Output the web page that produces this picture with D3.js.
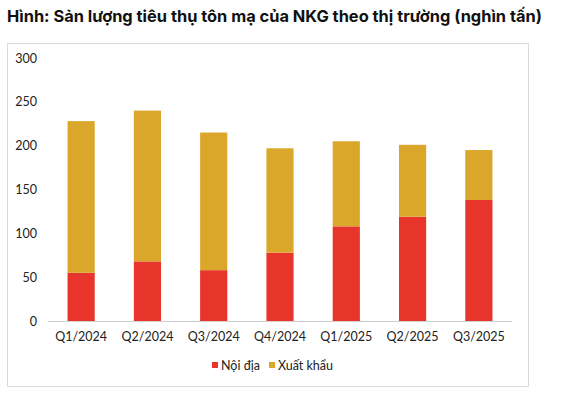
<!DOCTYPE html>
<html>
<head>
<meta charset="utf-8">
<script src="https://cdn.jsdelivr.net/npm/d3@7"></script>
<style>
  body { margin: 0; background: #fff; }
  svg { display: block; }
</style>
</head>
<body>
<svg id="chart" width="573" height="399"></svg>
<script>
// quarters and stacked values (nghìn tấn)
const quarters = ["Q1/2024", "Q2/2024", "Q3/2024", "Q4/2024", "Q1/2025", "Q2/2025", "Q3/2025"];
const noiDia = [55, 68, 58, 78, 108, 119, 138];
const xuatKhau = [173, 172, 157, 119, 97, 82, 57];
const yTicks = [0, 50, 100, 150, 200, 250, 300];
const seriesNames = ["Nội địa", "Xuất khẩu"];
const colors = ["#e8352c", "#dba72a"];

const svg = d3.select("#chart");
const font = "Lato, 'Noto Sans', sans-serif";

// title
svg.append("text")
    .attr("x", 7)
    .attr("y", 22)
    .attr("font-family", "Inter, 'Noto Sans', sans-serif")
    .attr("font-weight", "bold")
    .attr("font-size", 16.4)
    .attr("fill", "#111")
    .text("Hình: Sản lượng tiêu thụ tôn mạ của NKG theo thị trường (nghìn tấn)");

// frame
svg.append("rect")
    .attr("x", 7.5).attr("y", 43.5)
    .attr("width", 521).attr("height", 343)
    .attr("fill", "none")
    .attr("stroke", "#d9d9d9");

const x = d3.scaleBand()
    .domain(quarters)
    .range([48, 512])
    .paddingInner(0.59)
    .paddingOuter(0.295);

const y = d3.scaleLinear()
    .domain([0, 300])
    .range([321, 58]);

const rows = quarters.map((q, i) => ({q: q, "Nội địa": noiDia[i], "Xuất khẩu": xuatKhau[i]}));
const stacked = d3.stack().keys(seriesNames)(rows);

svg.append("g")
    .selectAll("g")
    .data(stacked)
    .join("g")
    .attr("fill", (d, i) => colors[i])
    .selectAll("rect")
    .data(d => d)
    .join("rect")
    .attr("x", d => x(d.data.q))
    .attr("y", d => y(d[1]))
    .attr("width", x.bandwidth())
    .attr("height", d => y(d[0]) - y(d[1]));

// baseline
svg.append("line")
    .attr("x1", 48).attr("x2", 512)
    .attr("y1", y(0) + 0.5).attr("y2", y(0) + 0.5)
    .attr("stroke", "#d0d0d0");

// y axis labels
const yAxis = svg.append("g")
    .attr("transform", "translate(37,0)")
    .call(d3.axisLeft(y).tickValues(yTicks).tickSize(0).tickPadding(0));
yAxis.select(".domain").remove();
yAxis.selectAll("text")
    .attr("font-family", font)
    .attr("font-size", 12.5)
    .attr("fill", "#222");

// x axis labels
const xAxis = svg.append("g")
    .attr("transform", "translate(0," + y(0) + ")")
    .call(d3.axisBottom(x).tickSize(0).tickPadding(11));
xAxis.select(".domain").remove();
xAxis.selectAll("text")
    .attr("font-family", font)
    .attr("font-size", 12.5)
    .attr("fill", "#222");

// legend
const legendX = [212, 269];
const legend = svg.append("g");
seriesNames.forEach((name, i) => {
    legend.append("rect")
        .attr("x", legendX[i]).attr("y", 362)
        .attr("width", 6).attr("height", 6)
        .attr("fill", colors[i]);
    legend.append("text")
        .attr("x", legendX[i] + 9).attr("y", 370)
        .attr("font-family", font)
        .attr("font-size", 12.5)
        .attr("fill", "#222")
        .text(name);
});
</script>
</body>
</html>
